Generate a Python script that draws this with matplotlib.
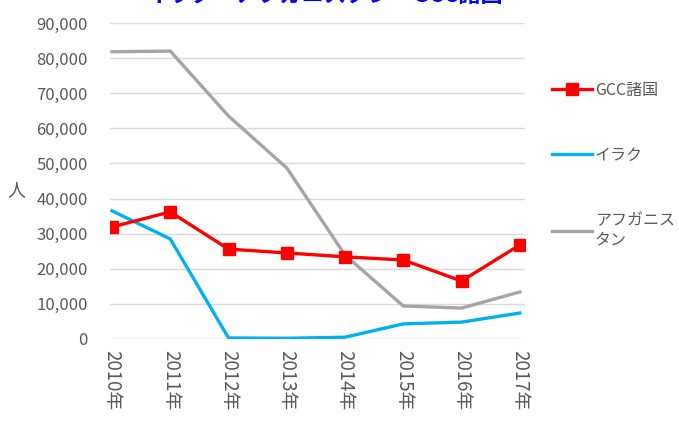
import matplotlib
matplotlib.use("Agg")
import matplotlib.pyplot as plt
from matplotlib.ticker import FuncFormatter

plt.rcParams['font.family'] = ['Noto Sans CJK JP', 'DejaVu Sans']

years = ["2010年", "2011年", "2012年", "2013年", "2014年", "2015年", "2016年", "2017年"]
gcc = [31900, 36200, 25600, 24500, 23400, 22500, 16500, 26800]
iraq = [36500, 28500, 300, 200, 500, 4300, 4800, 7400]
afghan = [81800, 82000, 63500, 48700, 23900, 9400, 8800, 13400]

title = "イラク・アフガニスタン・GCC諸国"
text_gray = "#595959"

fig = plt.figure(figsize=(6.79, 4.24), dpi=100)
ax = fig.add_axes([0.162, 0.2005, 0.611, 0.7453])

x = list(range(len(years)))
ax.plot(x, gcc, color="#FF0000", lw=2.4, marker="s", ms=9, label="GCC諸国", zorder=4)
ax.plot(x, iraq, color="#00B0F0", lw=2.4, label="イラク", zorder=3)
ax.plot(x, afghan, color="#A5A5A5", lw=2.4, label="アフガニス\nタン", zorder=2)

ax.set_ylim(0, 90000)
ax.set_xlim(-0.034, 7.086)
ax.set_yticks(range(0, 90001, 10000))
ax.yaxis.set_major_formatter(FuncFormatter(lambda v, p: f"{int(v):,}"))
ax.set_xticks(x)
ax.set_xticklabels(years, rotation=-90, va="top", ha="center")
ax.grid(axis="y", color="#D9D9D9", lw=1)
ax.set_axisbelow(True)
for s in ax.spines.values():
    s.set_visible(False)
ax.tick_params(length=0, colors=text_gray, labelsize=12)
ax.tick_params(axis="y", pad=16)
ax.tick_params(axis="x", pad=8, labelsize=13.5)

ax.set_ylabel("人", rotation=0, color=text_gray, fontsize=13, va="center", ha="center")
ax.yaxis.set_label_coords(-0.225, 0.47)

leg = ax.legend(loc="center left", bbox_to_anchor=(1.03, 0.55), frameon=False,
                fontsize=11.5, labelspacing=3.0, handlelength=2.5, handletextpad=0.2,
                labelcolor=text_gray)

fig.text(0.478, 0.984, title, color="#0000FF", fontsize=16, fontweight="bold",
         ha="center", va="bottom")

fig.savefig("out.png", dpi=100)
